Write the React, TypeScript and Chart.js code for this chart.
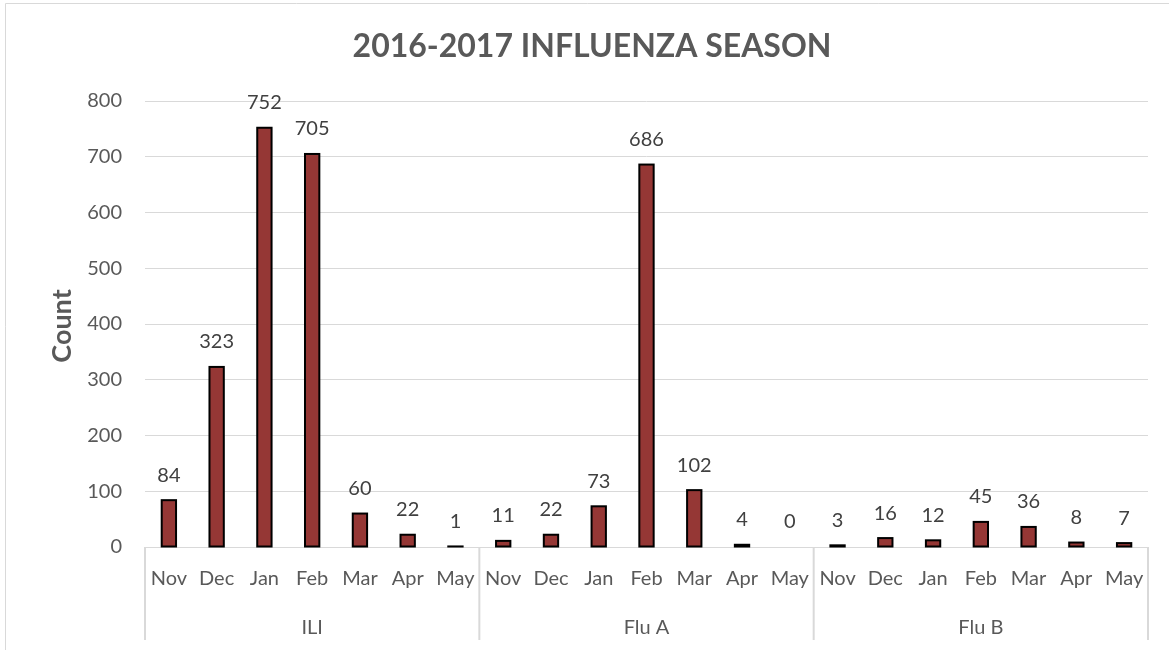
import React, { useEffect, useRef } from "react";
import { Chart, registerables } from "chart.js";

Chart.register(...registerables);

const titleText = "2016-2017 INFLUENZA SEASON";
const yAxisTitle = "Count";
const months = ["Nov", "Dec", "Jan", "Feb", "Mar", "Apr", "May"];
const groups = ["ILI", "Flu A", "Flu B"];
const iliValues = [84, 323, 752, 705, 60, 22, 1];
const fluAValues = [11, 22, 73, 686, 102, 4, 0];
const fluBValues = [3, 16, 12, 45, 36, 8, 7];
const yMax = 800;
const yStep = 100;

const FONT = "Lato, 'Noto Sans', sans-serif";

export default function App() {
  const ref = useRef<HTMLCanvasElement | null>(null);

  useEffect(() => {
    document.body.style.margin = "0";
    if (!ref.current) return;
    const labels = groups.flatMap(() => months);
    const values = [...iliValues, ...fluAValues, ...fluBValues];

    const decor = {
      id: "decor",
      afterDraw(chart: any) {
        const ctx = chart.ctx;
        const area = chart.chartArea;
        const xs = chart.scales.x;
        ctx.save();
        // outer border
        ctx.strokeStyle = "#d9d9d9";
        ctx.lineWidth = 1;
        ctx.beginPath();
        ctx.moveTo(5.5, 650);
        ctx.lineTo(5.5, 3.5);
        ctx.lineTo(1169, 3.5);
        ctx.stroke();
        // title
        ctx.fillStyle = "#595959";
        ctx.font = `bold 32px ${FONT}`;
        ctx.textAlign = "center";
        ctx.textBaseline = "middle";
        ctx.fillText(titleText, 592, 47);
        // y title
        ctx.save();
        ctx.translate(62, 326);
        ctx.rotate(-Math.PI / 2);
        ctx.font = `bold 27px ${FONT}`;
        ctx.fillText(yAxisTitle, 0, 0);
        ctx.restore();
        // group separators and labels
        const n = months.length;
        const catW = (area.right - area.left) / labels.length;
        ctx.strokeStyle = "#d9d9d9";
        ctx.lineWidth = 2;
        for (let g = 0; g <= groups.length; g++) {
          const x = area.left + g * n * catW;
          ctx.beginPath();
          ctx.moveTo(x, area.bottom);
          ctx.lineTo(x, 640);
          ctx.stroke();
        }
        ctx.fillStyle = "#595959";
        ctx.font = `20px ${FONT}`;
        groups.forEach((g, i) => {
          const x0 = xs.getPixelForValue(i * n);
          const x1 = xs.getPixelForValue(i * n + n - 1);
          ctx.fillText(g, (x0 + x1) / 2, 628);
        });
        ctx.restore();
      },
      afterDatasetsDraw(chart: any) {
        const ctx = chart.ctx;
        const meta = chart.getDatasetMeta(0);
        ctx.save();
        // bar outlines (centered stroke, like the reference)
        ctx.strokeStyle = "#000000";
        ctx.lineWidth = 2;
        meta.data.forEach((bar: any, i: number) => {
          if (values[i] <= 0) return;
          const w = bar.width;
          ctx.strokeRect(bar.x - w / 2, bar.y, w, bar.base - bar.y);
        });
        ctx.fillStyle = "#404040";
        ctx.font = `20px ${FONT}`;
        ctx.textAlign = "center";
        ctx.textBaseline = "middle";
        meta.data.forEach((bar: any, i: number) => {
          ctx.fillText(String(values[i]), bar.x, bar.y - 25);
        });
        ctx.restore();
      },
    };

    const chart = new Chart(ref.current, {
      type: "bar",
      data: {
        labels,
        datasets: [
          {
            data: values,
            backgroundColor: "#953735",
            borderWidth: 0,
            categoryPercentage: 1,
            barPercentage: 0.3,
          },
        ],
      },
      options: {
        animation: false,
        responsive: true,
        maintainAspectRatio: false,
        layout: { padding: { top: 101, right: 21, left: 0, bottom: 0 } },
        plugins: {
          legend: { display: false },
          title: { display: false },
          tooltip: { enabled: false },
        },
        scales: {
          x: {
            grid: { display: false },
            border: { display: true, color: "#d9d9d9", width: 1 },
            ticks: {
              color: "#595959",
              font: { family: FONT, size: 20 },
              padding: 12,
              maxRotation: 0,
              autoSkip: false,
            },
            afterFit(scale: any) {
              scale.height = 103;
            },
          },
          y: {
            min: 0,
            max: yMax,
            ticks: {
              stepSize: yStep,
              color: "#595959",
              font: { family: FONT, size: 20 },
              padding: 23,
            },
            grid: { color: "#d9d9d9", lineWidth: 1, drawTicks: false },
            border: { display: false },
            afterFit(scale: any) {
              scale.width = 145;
            },
          },
        },
      },
      plugins: [decor],
    });
    return () => chart.destroy();
  }, []);

  return (
    <div style={{ position: "relative", width: 1169, height: 650, background: "#fff" }}>
      <canvas ref={ref} />
    </div>
  );
}
